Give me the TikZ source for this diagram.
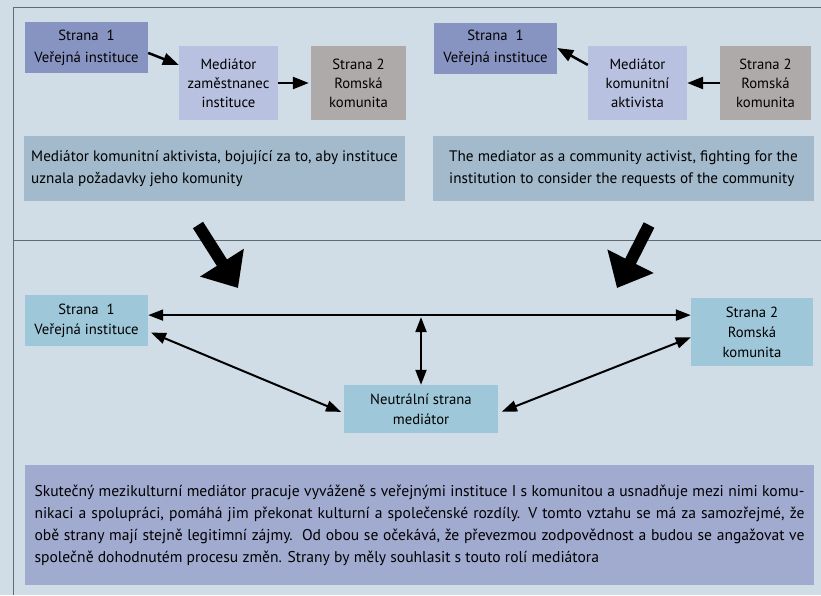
\documentclass[tikz,border=0pt]{standalone}
\usepackage{fontspec}
\setmainfont{PT Sans}
\usetikzlibrary{arrows.meta}

\definecolor{pagebg}{HTML}{D0DDE6}
\definecolor{framegray}{HTML}{5F6B73}
\definecolor{partydark}{HTML}{8794C1}
\definecolor{mediatorpale}{HTML}{B8C1E0}
\definecolor{romagray}{HTML}{AFAAAA}
\definecolor{notesteel}{HTML}{A2BACB}
\definecolor{partylight}{HTML}{9EC7DA}
\definecolor{notelavender}{HTML}{A1ABD0}

\begin{document}
\begin{tikzpicture} [
            x=1pt,
            y=-1pt,
            box/.style = {inner sep=0pt, align=center, font=\fontsize{14.7}{19}\selectfont},
            public party/.style = {box, fill=partydark, minimum width=123pt, minimum height=51pt,
                font=\fontsize{14.7}{22}\selectfont},
            mediator/.style = {box, fill=mediatorpale, minimum width=99pt, minimum height=74pt},
            roma party/.style = {box, fill=romagray, minimum height=74pt},
            note/.style = {box, fill=notesteel, minimum width=381pt, minimum height=65pt,
                align=left, font=\fontsize{15.2}{22}\selectfont},
            equal party/.style = {box, fill=partylight, font=\fontsize{14.7}{20}\selectfont},
            link/.style = {draw, line width=2.5pt, -{Triangle[length=16pt,width=12pt]}},
            both link/.style = {draw, line width=2pt, {Triangle[length=15pt,width=11pt]}-{Triangle[length=15pt,width=11pt]}},
            big arrow/.style = {draw, line width=12pt, -{Triangle[length=30pt,width=50pt]}},
            frame/.style = {draw=framegray, line width=0.8pt}
        ]
        \useasboundingbox[fill=pagebg] (0,0) rectangle (821,595);
        % frame of the two parts
        \path[frame] (13,595) -- (13,7.5) -- (821,7.5);
        \path[frame] (13,240.5) -- (821,240.5);
        % First we draw the boxes of the two upper schemes
        \foreach \pos/\name in {
                {(86.5,47.5)/s1a},
                {(495.5,48)/s1b}}
            \node[public party] (\name) at \pos {Strana~ 1\\Veřejná instituce};
        \foreach \pos/\name/\txt in {
                {(228.5,83)/ma/zaměstnanec\\instituce},
                {(637.5,83)/mb/komunitní\\aktivista}}
            \node[mediator] (\name) at \pos {Mediátor\\\txt};
        \foreach \pos/\name/\boxwd in {
                {(358.5,83)/s2a/95pt},
                {(765.5,83)/s2b/91pt}}
            \node[roma party, minimum width=\boxwd] (\name) at \pos {Strana 2\\Romská\\komunita};
        \node[note] (ta) at (214.5,168.5) {Mediátor komunitní aktivista, bojující za to, aby instituce\\uznala požadavky jeho komunity};
        \node[note] (tb) at (623.5,168.5) {The mediator as a community activist, fighting for the\\institution to consider the requests of the community};
        % Connect them
        \path[link] (s1a.-5) -- (ma.160);
        \path[link, shorten >=2pt] (ma.east) -- (s2a.west);
        \path[link] (mb.160) -- (s1b.east);
        \path[link] (s2b.west) -- (mb.east);
        % the two big arrows down
        \coordinate (la) at (198,225);
        \coordinate (lb) at (238,288);
        \coordinate (ra) at (649,225);
        \coordinate (rb) at (617,288);
        \path[big arrow] (la) -- (lb);
        \path[big arrow] (ra) -- (rb);
        % lower scheme
        \node[equal party, minimum width=123pt, minimum height=51pt] (s1c) at (86.5,320.5) {Strana~ 1\\Veřejná instituce};
        \node[equal party, minimum width=122pt, minimum height=68pt] (s2c) at (752,332) {Strana 2\\Romská\\komunita};
        \node[equal party, minimum width=154pt, minimum height=48pt] (nc) at (421,409) {Neutrální strana\\mediátor};
        \coordinate (hm) at (nc.north |- s1c.5);
        \path[both link] (s1c.5) -- (s1c.5 -| s2c.west);
        \path[both link, shorten <=2pt] (hm) -- (nc.north);
        \path[both link, shorten <=3pt, shorten >=3pt] (s1c.-10) -- (nc.183);
        \path[both link, shorten <=4pt] (nc.-3) -- (s2c.185);
        \node[box, fill=notelavender, minimum width=789pt, minimum height=120pt, text width=770pt,
            align=justify, font=\fontsize{15.6}{22}\selectfont] (tc) at (419.5,525)
            {Skutečný mezikulturní mediátor pracuje vyváženě s veřejnými instituce I s komunitou a usnadňuje mezi nimi komu-\linebreak
            nikaci a spolupráci, pomáhá jim překonat kulturní a společenské rozdíly. V tomto vztahu se má za samozřejmé, že\linebreak
            obě strany mají stejně legitimní zájmy.\ \ Od obou se očekává, že převezmou zodpovědnost a budou se angažovat ve\linebreak
            společně dohodnutém procesu změn. Strany by měly souhlasit s touto rolí mediátora};
    \end{tikzpicture}
\end{document}
